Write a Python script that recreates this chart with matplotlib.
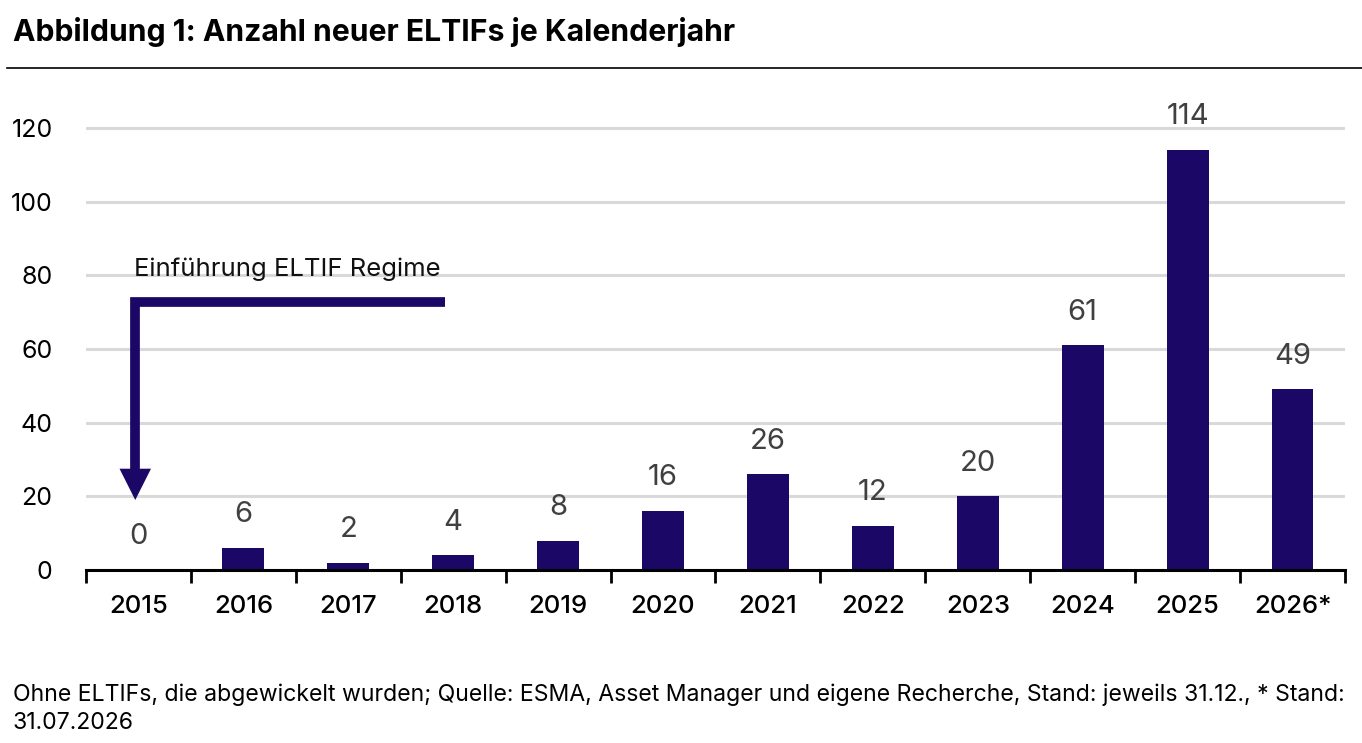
import matplotlib.pyplot as plt

# Daten
jahre = ['2015', '2016', '2017', '2018', '2019', '2020', '2021', '2022', '2023', '2024', '2025', '2026*']
anzahl = [0, 6, 2, 4, 8, 16, 26, 12, 20, 61, 114, 49]
y_ticks = [0, 20, 40, 60, 80, 100, 120]

titel = 'Abbildung 1: Anzahl neuer ELTIFs je Kalenderjahr'
hinweis = 'Einführung ELTIF Regime'
fussnote = ('Ohne ELTIFs, die abgewickelt wurden; Quelle: ESMA, Asset Manager und eigene Recherche, '
            'Stand: jeweils 31.12., * Stand:\n31.07.2026')

farbe = '#1b0765'
plt.rcParams['font.family'] = ['Inter', 'DejaVu Sans']

fig = plt.figure(figsize=(13.62, 7.43), dpi=100)
ax = fig.add_axes([0.0631, 0.2328, 0.9244, 0.6447])

x = range(len(jahre))
ax.bar(x, anzahl, width=0.4, color=farbe, zorder=3)

# Wertebeschriftungen
for xi, wert in zip(x, anzahl):
    ax.text(xi, wert + 9, str(wert), ha='center', va='center', fontsize=21, color='#404040')

ax.set_xlim(-0.5, len(jahre) - 0.5)
ax.set_ylim(0, 130)
ax.set_yticks(y_ticks)
ax.set_yticklabels([str(t) for t in y_ticks], fontsize=18)
ax.tick_params(axis='y', length=0, pad=24)

# x-Achse: Striche an den Kategoriegrenzen
ax.set_xticks([i - 0.5 for i in range(len(jahre) + 1)])
ax.set_xticklabels([])
ax.set_xticks(list(x), minor=True)
ax.set_xticklabels(jahre, minor=True, fontsize=18.5, fontweight='medium')
ax.tick_params(axis='x', which='major', length=9, width=2, direction='out')
ax.tick_params(axis='x', which='minor', length=0, pad=18)

ax.grid(axis='y', color='#d9d9d9', linewidth=2.2, zorder=0)
for s in ['top', 'right', 'left']:
    ax.spines[s].set_visible(False)
ax.spines['bottom'].set_linewidth(2.2)
ax.spines['bottom'].set_zorder(4)

# Pfeil "Einführung ELTIF Regime"
ax.text(-0.04, 81.5, hinweis, fontsize=18.5, va='center', ha='left', color='#111111')
ax.plot([2.92, -0.03, -0.03], [72.8, 72.8, 26.5], color=farbe, linewidth=7,
        solid_joinstyle='miter', solid_capstyle='butt', zorder=5)
ax.fill([-0.18, 0.12, -0.03], [27.5, 27.5, 19], color=farbe, zorder=5, linewidth=0)

fig.text(0.0095, 0.957, titel, fontsize=21.7, fontweight='bold', va='center', ha='left')
fig.add_artist(plt.Line2D([0.005, 1.0], [0.909, 0.909], color='black', linewidth=1.2,
                          transform=fig.transFigure))
fig.text(0.0095, 0.046, fussnote, fontsize=16.6, va='center', ha='left', linespacing=1.4)

fig.savefig('out.png', dpi=100)
